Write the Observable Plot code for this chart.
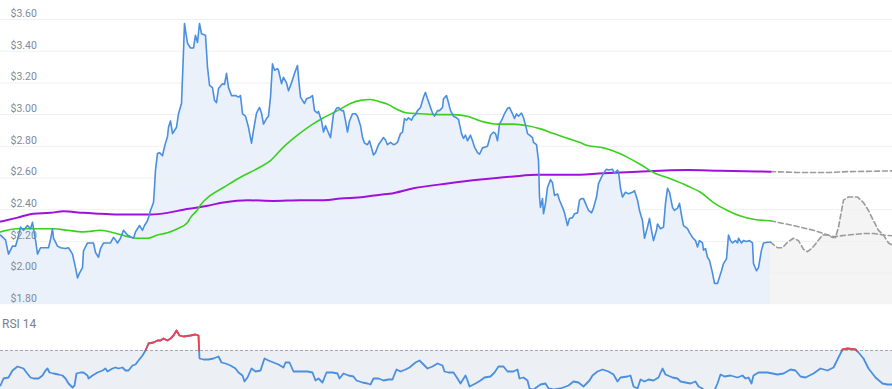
<!DOCTYPE html>
<html>
<head>
<meta charset="utf-8">
<script src="https://cdn.jsdelivr.net/npm/d3@7"></script>
<script src="https://cdn.jsdelivr.net/npm/@observablehq/plot@0.6"></script>
<style>
  html, body { margin: 0; padding: 0; background: #fff; }
  #wrap { position: relative; width: 892px; height: 389px; overflow: hidden; font-family: Roboto, "Open Sans", sans-serif; }
  #main { position: absolute; left: 0; top: 0; }
  #rsi { position: absolute; left: 0; top: 310px; }
  #rsiLabel { position: absolute; left: 2px; top: 317px; font-size: 12px; color: #76808f; }
</style>
</head>
<body>
<div id="wrap">
  <div id="main"></div>
  <div id="rsi"></div>
  <div id="rsiLabel">RSI 14</div>
</div>
<script>
// ---- data: [day, value] ----
const yTicks = [1.8, 2.0, 2.2, 2.4, 2.6, 2.8, 3.0, 3.2, 3.4, 3.6];

const price = [[0,2.24],[2.5,2.21],[4,2.12],[6,2.17],[7.5,2.17],[8.5,2.21],[10,2.29],[11.5,2.27],[13.5,2.30],[15,2.28],[16,2.32],[16.5,2.28],[17.5,2.21],[18.5,2.12],[20,2.16],[22.5,2.16],[24,2.16],[25,2.21],[26,2.28],[26.5,2.22],[28.5,2.17],[30,2.16],[32.5,2.155],[34,2.16],[36,2.12],[37.5,2.035],[38.5,1.97],[39.5,2.00],[41,2.035],[41.5,2.14],[43.5,2.19],[45,2.19],[46.5,2.19],[47.5,2.13],[49,2.10],[50,2.155],[51.5,2.19],[53.5,2.19],[55,2.19],[56.5,2.225],[57.5,2.21],[58.5,2.19],[60,2.22],[61.5,2.27],[63.5,2.24],[65,2.23],[66.5,2.22],[67.5,2.26],[68.5,2.28],[69.5,2.30],[71,2.27],[72,2.30],[73.5,2.33],[75,2.395],[76.5,2.445],[77,2.54],[77.5,2.65],[78.5,2.755],[79.5,2.76],[81,2.74],[81.5,2.77],[82.5,2.82],[83.5,2.86],[84,2.92],[85,2.96],[86,2.88],[87,2.90],[88,2.92],[89,3.005],[90.5,3.07],[91,3.235],[91.5,3.40],[92,3.575],[92.5,3.53],[93.5,3.45],[95,3.42],[96.5,3.42],[97.5,3.50],[98.5,3.455],[99.5,3.575],[100.5,3.51],[102.5,3.50],[103.5,3.30],[104.5,3.185],[106,3.17],[107,3.09],[108,3.075],[109,3.165],[111,3.195],[112,3.19],[113,3.26],[114,3.17],[115.5,3.12],[117.5,3.12],[119,3.11],[120,3.12],[121,3.005],[122.5,2.99],[124,2.92],[125.5,2.82],[126.5,2.90],[128,3.01],[129.5,3.045],[130.5,3.01],[131.5,2.94],[133,2.975],[134,2.99],[135,3.11],[136,3.32],[137,3.28],[138.5,3.29],[139,3.28],[140.5,3.195],[141.5,3.235],[143,3.20],[144,3.15],[145.5,3.20],[147,3.26],[148.5,3.31],[149,3.235],[150,3.11],[151,3.09],[152,3.07],[153,3.10],[155,3.11],[156,3.12],[157,3.025],[158.5,3.01],[159,3.02],[160.5,2.96],[161.5,2.89],[162.5,2.93],[163.5,2.90],[165,2.855],[166.5,3.005],[168,3.04],[169,3.045],[170.5,3.025],[171.5,3.025],[172.5,2.96],[173.5,2.89],[174.5,2.96],[176,3.005],[177.5,3.005],[178.5,2.99],[180,2.93],[181,2.855],[182,2.82],[183.5,2.81],[184.5,2.835],[185.5,2.79],[186.5,2.745],[187.5,2.76],[189,2.81],[191.5,2.855],[192.5,2.84],[193.5,2.81],[195,2.825],[196.5,2.81],[197.5,2.815],[198.5,2.825],[200,2.88],[201,2.89],[202,2.975],[203,2.965],[204,2.98],[205.5,2.965],[206.5,2.99],[207.5,3.00],[208.5,3.025],[210,3.045],[211.5,3.11],[212.5,3.14],[213.5,3.10],[215,3.045],[216,3.01],[217,2.99],[218.5,3.025],[219.5,3.025],[221,3.045],[221.5,3.10],[223,3.12],[224,3.075],[225,3.025],[226.5,2.99],[228,2.98],[229,2.97],[230.5,2.88],[231.5,2.85],[232.5,2.87],[233.5,2.835],[235,2.87],[236,2.835],[237,2.795],[238.5,2.76],[239.5,2.75],[241,2.79],[242.5,2.795],[243.5,2.80],[245,2.87],[246.5,2.89],[247.5,2.88],[248.5,2.835],[249.5,2.94],[251,2.975],[252,3.005],[253.5,3.04],[254.5,3.045],[256,3.005],[257,2.975],[258,3.005],[259,2.99],[260.5,3.01],[261.5,2.98],[263,2.91],[263.5,2.88],[264.5,2.87],[266,2.855],[266.5,2.825],[268,2.81],[269,2.71],[269.5,2.48],[270,2.415],[271,2.47],[271.5,2.375],[272.5,2.44],[273.5,2.54],[275,2.59],[276,2.57],[277,2.49],[278.5,2.50],[279.5,2.46],[281,2.415],[282,2.38],[283.5,2.30],[284.5,2.345],[286,2.35],[287,2.375],[288.5,2.38],[289.5,2.46],[290.5,2.47],[291.5,2.47],[292.5,2.44],[294,2.395],[295.5,2.38],[296.5,2.41],[298,2.48],[299,2.565],[300.5,2.605],[301.5,2.63],[303,2.655],[304,2.65],[306,2.655],[307,2.63],[308.5,2.65],[309,2.64],[310,2.535],[311,2.48],[312.5,2.51],[314,2.50],[316,2.51],[317,2.52],[318.5,2.46],[319.5,2.395],[321,2.33],[322,2.22],[323.5,2.29],[324.5,2.345],[325.5,2.27],[326.5,2.205],[328,2.27],[328.5,2.31],[330,2.28],[331.5,2.29],[332.5,2.44],[333.5,2.535],[334.5,2.51],[336,2.415],[337,2.395],[338.5,2.41],[339.5,2.44],[340.5,2.365],[341.5,2.30],[343.5,2.28],[344.5,2.255],[346,2.225],[347.5,2.205],[348.5,2.165],[349.5,2.205],[351,2.19],[351.5,2.145],[352.5,2.155],[353.5,2.10],[354.5,2.08],[356,2.00],[357,1.935],[358.5,1.935],[359.5,1.975],[360.5,2.015],[361.5,2.06],[363,2.09],[364,2.24],[365,2.205],[366,2.19],[367.5,2.205],[368.5,2.19],[369,2.22],[370.5,2.19],[371.5,2.205],[373,2.20],[374.5,2.205],[376,2.19],[376.5,2.06],[378,2.015],[379,2.035],[380.5,2.145],[381.5,2.19],[383.5,2.195],[385,2.195]];

const sma50 = [[0,2.26],[8.5,2.28],[16.5,2.28],[26.5,2.28],[33.5,2.27],[41.5,2.26],[50,2.27],[56.5,2.255],[63.5,2.23],[68.5,2.22],[73.5,2.22],[78.5,2.24],[83.5,2.255],[88.5,2.28],[93.5,2.32],[95,2.35],[98.5,2.40],[100,2.43],[105,2.49],[111.5,2.54],[120,2.605],[128.5,2.66],[135,2.71],[141.5,2.795],[148.5,2.87],[155,2.93],[161.5,2.98],[168.5,3.025],[175,3.07],[180,3.09],[185,3.095],[190,3.08],[194.5,3.06],[196.5,3.045],[203.5,3.01],[210,3.005],[218.5,3.00],[226.5,3.00],[233.5,2.99],[240,2.96],[248.5,2.94],[256.5,2.94],[263.5,2.93],[270,2.91],[276.5,2.88],[283.5,2.85],[289.5,2.825],[293.5,2.805],[301.5,2.79],[306.5,2.77],[313.5,2.73],[320,2.685],[326.5,2.635],[335,2.595],[343.5,2.55],[350,2.51],[356.5,2.445],[363.5,2.395],[370,2.36],[376.5,2.34],[385,2.33]];

const sma200 = [[0,2.325],[8.5,2.35],[16.5,2.375],[25,2.38],[31.5,2.39],[41.5,2.38],[50,2.375],[58.5,2.37],[66.5,2.37],[75,2.37],[83.5,2.38],[91.5,2.40],[99.5,2.415],[103.5,2.425],[111.5,2.445],[123.5,2.46],[136.5,2.455],[150,2.46],[161.5,2.46],[170,2.47],[181.5,2.48],[190,2.495],[194.5,2.50],[206.5,2.535],[223.5,2.565],[240,2.59],[256.5,2.61],[268.5,2.62],[285,2.62],[301.5,2.63],[318.5,2.64],[343.5,2.65],[360,2.645],[385,2.64]];

const fcPrice = [[385,2.195],[388.5,2.16],[391,2.16],[393.5,2.195],[396.5,2.22],[399,2.205],[401.5,2.15],[403.5,2.135],[406,2.16],[408.5,2.20],[411,2.24],[413.5,2.24],[416,2.225],[417.5,2.225],[419,2.29],[421.5,2.46],[424,2.48],[428.5,2.48],[431.5,2.445],[434,2.395],[436.5,2.33],[439,2.27],[441.5,2.24],[444,2.19],[446,2.175]];
const fcSma50 = [[385,2.33],[396.5,2.30],[406.5,2.27],[416.5,2.23],[423.5,2.24],[431.5,2.25],[436.5,2.25],[441.5,2.24],[446,2.235]];
const fcSma200 = [[385,2.64],[398.5,2.635],[406.5,2.635],[415,2.635],[423.5,2.64],[446,2.645]];

const rsi = [[0,35],[1.5,42],[4,43],[6,50],[8.5,54],[10,53],[11.5,52],[13,48],[15,43],[16.5,42],[19,42],[21,45],[22.5,50],[23.5,52],[24.5,48],[26.5,47],[29,46],[31,45],[32.5,42],[34,37],[36,33],[37,35],[38,47],[40,48],[41.5,48],[43.5,45],[44,42],[46,45],[48.5,48],[51,50],[52.5,52],[53.5,49],[56,52],[57.5,53],[59,52],[61,53],[62.5,50],[64,50],[66,55],[67.5,56],[69,60],[71,65],[72.5,70],[74,77],[76.5,78],[78.5,80],[80,80],[81.5,82],[83.5,80],[85,82],[86.5,85],[88,90],[89.5,85],[91.5,84],[95,85],[97.5,86],[99,85],[99.5,62],[101.5,61],[104,61],[106.5,62],[109,64],[110.5,58],[112.5,57],[115,55],[117.5,52],[119,48],[121,45],[122,39],[123.5,43],[125.5,52],[127.5,49],[130,50],[132,62],[134,60],[136.5,58],[139,56],[141.5,53],[142.5,58],[144.5,58],[146.5,49],[150,49],[153.5,49],[156,48],[157.5,40],[159,42],[161,38],[163,48],[166,48],[168.5,47],[169.5,42],[171.5,47],[174,45],[176.5,44],[178,40],[181,38],[183.5,37],[185,36],[186.5,42],[189,42],[191.5,40],[194,41],[196,41],[198,51],[200,49],[202.5,51],[204.5,53],[207.5,58],[209.5,60],[211,57],[213.5,52],[216,54],[218.5,57],[221,55],[222,49],[224,48],[226.5,48],[228.5,42],[230,37],[232.5,45],[233.5,40],[234.5,34],[237.5,37],[240,40],[242,43],[245,44],[247,48],[249,54],[251.5,54],[253.5,49],[256.5,49],[258.5,51],[259.5,42],[261.5,43],[263.5,40],[264.5,32],[266.5,31],[270,36],[272.5,37],[274,32],[276.5,31],[280,32],[284,35],[286.5,39],[289,38],[291.5,34],[294.5,40],[296,45],[298.5,49],[301,51],[304,49],[306.5,46],[308.5,39],[310,43],[313.5,44],[315,45],[316.5,34],[318.5,32],[320,41],[322,39],[324,41],[326.5,40],[329,43],[331,52],[332.5,46],[336,43],[338.5,42],[340,39],[342.5,38],[345,37],[347.5,39],[349,34],[351,32],[352.5,28],[356.5,28],[358.5,37],[360,46],[362,44],[365,45],[368.5,43],[371,45],[372.5,42],[374,43],[375.5,37],[376.5,45],[379,48],[383.5,48],[388.5,46],[391.5,47],[395,51],[397.5,50],[400,44],[402.5,43],[406.5,47],[410,52],[413.5,50],[416.5,53],[419,63],[421,71],[423.5,72],[427.5,71],[429,68],[431.5,62],[434,52],[437.5,43],[441,37],[443.5,36],[446,36]];
const rsiLimit = 70;

// ---- helpers ----
const X = d => d[0], Y = d => d[1];
const xDomain = [0, 446];

// runs of RSI above the limit (with interpolated crossing points)
const overRuns = [];
{
  let cur = null;
  rsi.forEach((p, i) => {
    const above = p[1] > rsiLimit;
    if (i > 0) {
      const q = rsi[i - 1];
      const qa = q[1] > rsiLimit;
      if (qa !== above) {
        const t = (rsiLimit - q[1]) / (p[1] - q[1]);
        const c = [q[0] + t * (p[0] - q[0]), rsiLimit];
        if (above) { cur = [c]; overRuns.push(cur); }
        else { if (cur) cur.push(c); cur = null; }
      }
    }
    if (above) { if (!cur) { cur = []; overRuns.push(cur); } cur.push(p); }
  });
}
const overData = overRuns.flatMap((run, k) => run.map(p => ({x: p[0], y: p[1], k})));

// ---- main chart ----
const main = Plot.plot({
  width: 892, height: 310,
  marginLeft: 0, marginRight: 0, marginTop: 0, marginBottom: 0,
  style: {background: "transparent", fontFamily: "Roboto, sans-serif"},
  x: {domain: xDomain, range: [0, 892], axis: null},
  y: {domain: [1.8, 3.6], range: [304.3, 19], axis: null},
  marks: [
    Plot.areaY(price, {x: X, y1: 1.8, y2: Y, fill: "#eaf1fb"}),
    Plot.areaY(fcPrice, {x: X, y1: 1.8, y2: Y, fill: "#f4f4f4"}),
    Plot.ruleY(yTicks.slice(1), {stroke: "#eef0f3", strokeWidth: 1}),
    Plot.line(fcSma200, {x: X, y: Y, stroke: "#9b9b9b", strokeWidth: 1.6, strokeDasharray: "5,3"}),
    Plot.line(fcSma50, {x: X, y: Y, stroke: "#9b9b9b", strokeWidth: 1.6, strokeDasharray: "5,3"}),
    Plot.line(fcPrice, {x: X, y: Y, stroke: "#9b9b9b", strokeWidth: 1.6, strokeDasharray: "5,3"}),
    Plot.line(sma200, {x: X, y: Y, stroke: "#a010dc", strokeWidth: 2, curve: "monotone-x"}),
    Plot.line(sma50, {x: X, y: Y, stroke: "#36d21a", strokeWidth: 1.6, curve: "monotone-x"}),
    Plot.line(price, {x: X, y: Y, stroke: "#4a8fe0", strokeWidth: 1.6}),
    Plot.text(yTicks, {y: d => d, frameAnchor: "left", dx: 10, dy: -6, textAnchor: "start",
      text: d => "$" + d.toFixed(2), fill: "#7f899a", fontSize: 10.5})
  ]
});
document.getElementById("main").appendChild(main);

// ---- RSI panel ----
const rsiPlot = Plot.plot({
  width: 892, height: 79,
  marginLeft: 0, marginRight: 0, marginTop: 0, marginBottom: 0,
  style: {background: "transparent", overflow: "hidden"},
  x: {domain: xDomain, range: [0, 892], axis: null},
  y: {domain: [31, 100], range: [79, 10], axis: null},
  marks: [
    Plot.areaY([[xDomain[0]], [xDomain[1]]], {x: d => d[0], y1: 0, y2: rsiLimit, fill: "#eceff3"}),
    Plot.ruleY([rsiLimit], {stroke: "#a2abb5", strokeWidth: 1, strokeDasharray: "3,2"}),
    Plot.line(rsi, {x: X, y: Y, stroke: "#4a8fe0", strokeWidth: 1.8}),
    Plot.line(overData, {x: "x", y: "y", z: "k", stroke: "#e8454f", strokeWidth: 1.8})
  ]
});
document.getElementById("rsi").appendChild(rsiPlot);
</script>
</body>
</html>
